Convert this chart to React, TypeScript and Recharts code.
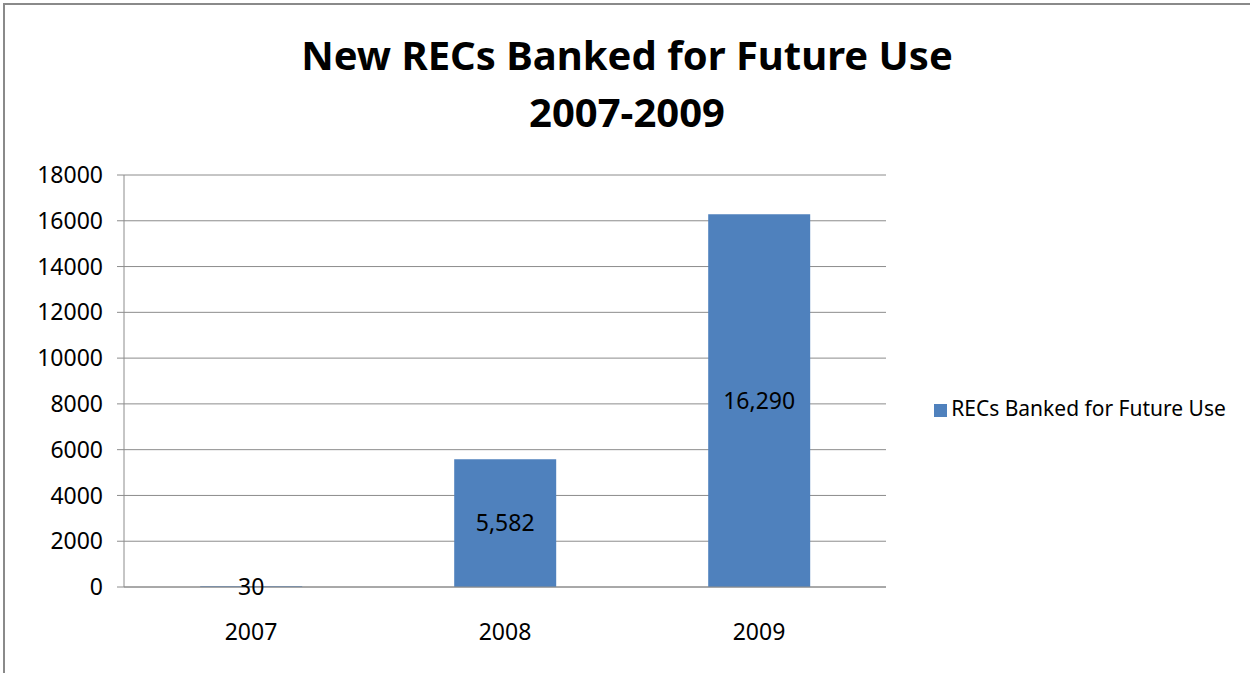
import React from 'react';
import { BarChart, Bar, XAxis, YAxis, CartesianGrid, Legend, LabelList } from 'recharts';

const years = ['2007', '2008', '2009'];
const banked = [30, 5582, 16290];
const yTicks = [0, 2000, 4000, 6000, 8000, 10000, 12000, 14000, 16000, 18000];
const boundaryTicks = [0, 1, 2, 3];

const data = years.map((year, i) => ({ year, value: banked[i] }));

const font = '"Noto Sans", "Open Sans", sans-serif';

export default function App() {
  return (
    <div
      style={{
        position: 'absolute',
        left: 0,
        top: 0,
        width: 1250,
        height: 673,
        background: '#fff',
        fontFamily: font,
      }}
    >
      <div
        style={{
          position: 'absolute',
          left: 3,
          top: 3,
          width: 1260,
          height: 668,
          borderLeft: '2px solid #8a8a8a',
          borderTop: '2px solid #8a8a8a',
          borderBottom: '2px solid #d4d4d4',
        }}
      />
      <div
        style={{
          position: 'absolute',
          left: 0,
          width: 1254,
          top: 26,
          textAlign: 'center',
          fontWeight: 'bold',
          fontSize: 40,
          lineHeight: '57px',
          color: '#000',
        }}
      >
        New RECs Banked for Future Use
        <br />
        2007-2009
      </div>
      <BarChart
        width={1250}
        height={673}
        data={data}
        margin={{ top: 175, right: 364, bottom: 0, left: 0 }}
        barCategoryGap="30%"
        style={{ position: 'absolute', left: 0, top: 0 }}
      >
        <CartesianGrid vertical={false} stroke="#8c8c8c" />
        <XAxis
          xAxisId="edges"
          type="number"
          domain={[0, 3]}
          ticks={boundaryTicks}
          tick={false}
          height={0}
          axisLine={false}
          tickLine={{ stroke: '#8c8c8c' }}
          tickSize={7}
        />
        <XAxis
          dataKey="year"
          height={86}
          axisLine={{ stroke: '#8c8c8c' }}
          tickLine={false}
          tickMargin={31}
          tick={{ fill: '#000', fontSize: 23, fontFamily: font }}
        />
        <YAxis
          width={124}
          domain={[0, 18000]}
          ticks={yTicks}
          interval={0}
          axisLine={{ stroke: '#8c8c8c' }}
          tickLine={{ stroke: '#8c8c8c' }}
          tickSize={7}
          tickMargin={14}
          tick={{ fill: '#000', fontSize: 23, fontFamily: font }}
        />
        <Legend
          layout="horizontal"
          align="center"
          verticalAlign="middle"
          iconType="square"
          iconSize={13}
          wrapperStyle={{ left: 925, top: 394, width: 320, fontSize: 21, fontFamily: font, textAlign: 'left' }}
          formatter={(v: string) => <span style={{ color: '#000' }}>{v}</span>}
        />
        <Bar
          dataKey="value"
          name="RECs Banked for Future Use"
          fill="#4f81bd"
          isAnimationActive={false}
        >
          <LabelList
            dataKey="value"
            position="center"
            fill="#000"
            fontSize={23}
            fontFamily={font}
            formatter={(v: number) => v.toLocaleString('en-US')}
          />
        </Bar>
      </BarChart>
    </div>
  );
}
